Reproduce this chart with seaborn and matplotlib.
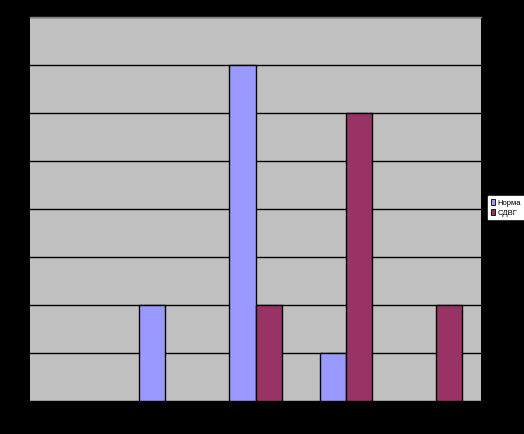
import matplotlib
matplotlib.use("Agg")
import matplotlib.pyplot as plt
import seaborn as sns
import pandas as pd
from matplotlib.patches import Patch

categories = ["1", "2", "3", "4", "5"]
norma = [0, 2, 7, 1, 0]
sdvg = [0, 0, 2, 6, 2]
series_names = ["Норма", "СДВГ"]
colors = ["#9999FF", "#993366"]

df = pd.DataFrame({
    "cat": categories * 2,
    "val": norma + sdvg,
    "grp": [series_names[0]] * len(categories) + [series_names[1]] * len(categories),
})

fig = plt.figure(figsize=(5.24, 4.35), dpi=100, facecolor="black")
ax = fig.add_axes([30 / 524, 33 / 435, 451 / 524, 384 / 435])
ax.set_facecolor("#C0C0C0")

sns.barplot(data=df, x="cat", y="val", hue="grp", palette=colors, width=0.58,
            edgecolor="black", linewidth=1.0, saturation=1, ax=ax, legend=False, zorder=3)
for p in ax.patches:
    if p.get_height() == 0:
        p.set_visible(False)

ax.set_ylim(0, 8)
ax.set_xlim(-0.5, 4.5)
ax.set_yticks(range(0, 9))
ax.yaxis.grid(True, color="black", linewidth=1.0, zorder=1)
ax.set_axisbelow(True)
ax.tick_params(left=False, bottom=False, labelleft=False, labelbottom=False)
ax.set_xlabel("")
ax.set_ylabel("")
for s in ["left", "right", "bottom"]:
    ax.spines[s].set_visible(False)
ax.spines["top"].set_color("#808080")
ax.spines["top"].set_linewidth(1.0)

handles = [Patch(facecolor=c, edgecolor="black", linewidth=0.6) for c in colors]
leg = fig.legend(handles, series_names, loc="upper left",
                 bbox_to_anchor=(488 / 524, 1 - 197 / 435),
                 frameon=True, fancybox=False, framealpha=1,
                 prop={"family": ["Liberation Sans", "DejaVu Sans"], "size": 5.5},
                 handlelength=0.6, handleheight=0.8, handletextpad=0.3,
                 borderpad=0.35, labelspacing=0.35, borderaxespad=0)
leg.get_frame().set_facecolor("white")
leg.get_frame().set_edgecolor("white")

fig.savefig("out.png", dpi=100, facecolor="black")
